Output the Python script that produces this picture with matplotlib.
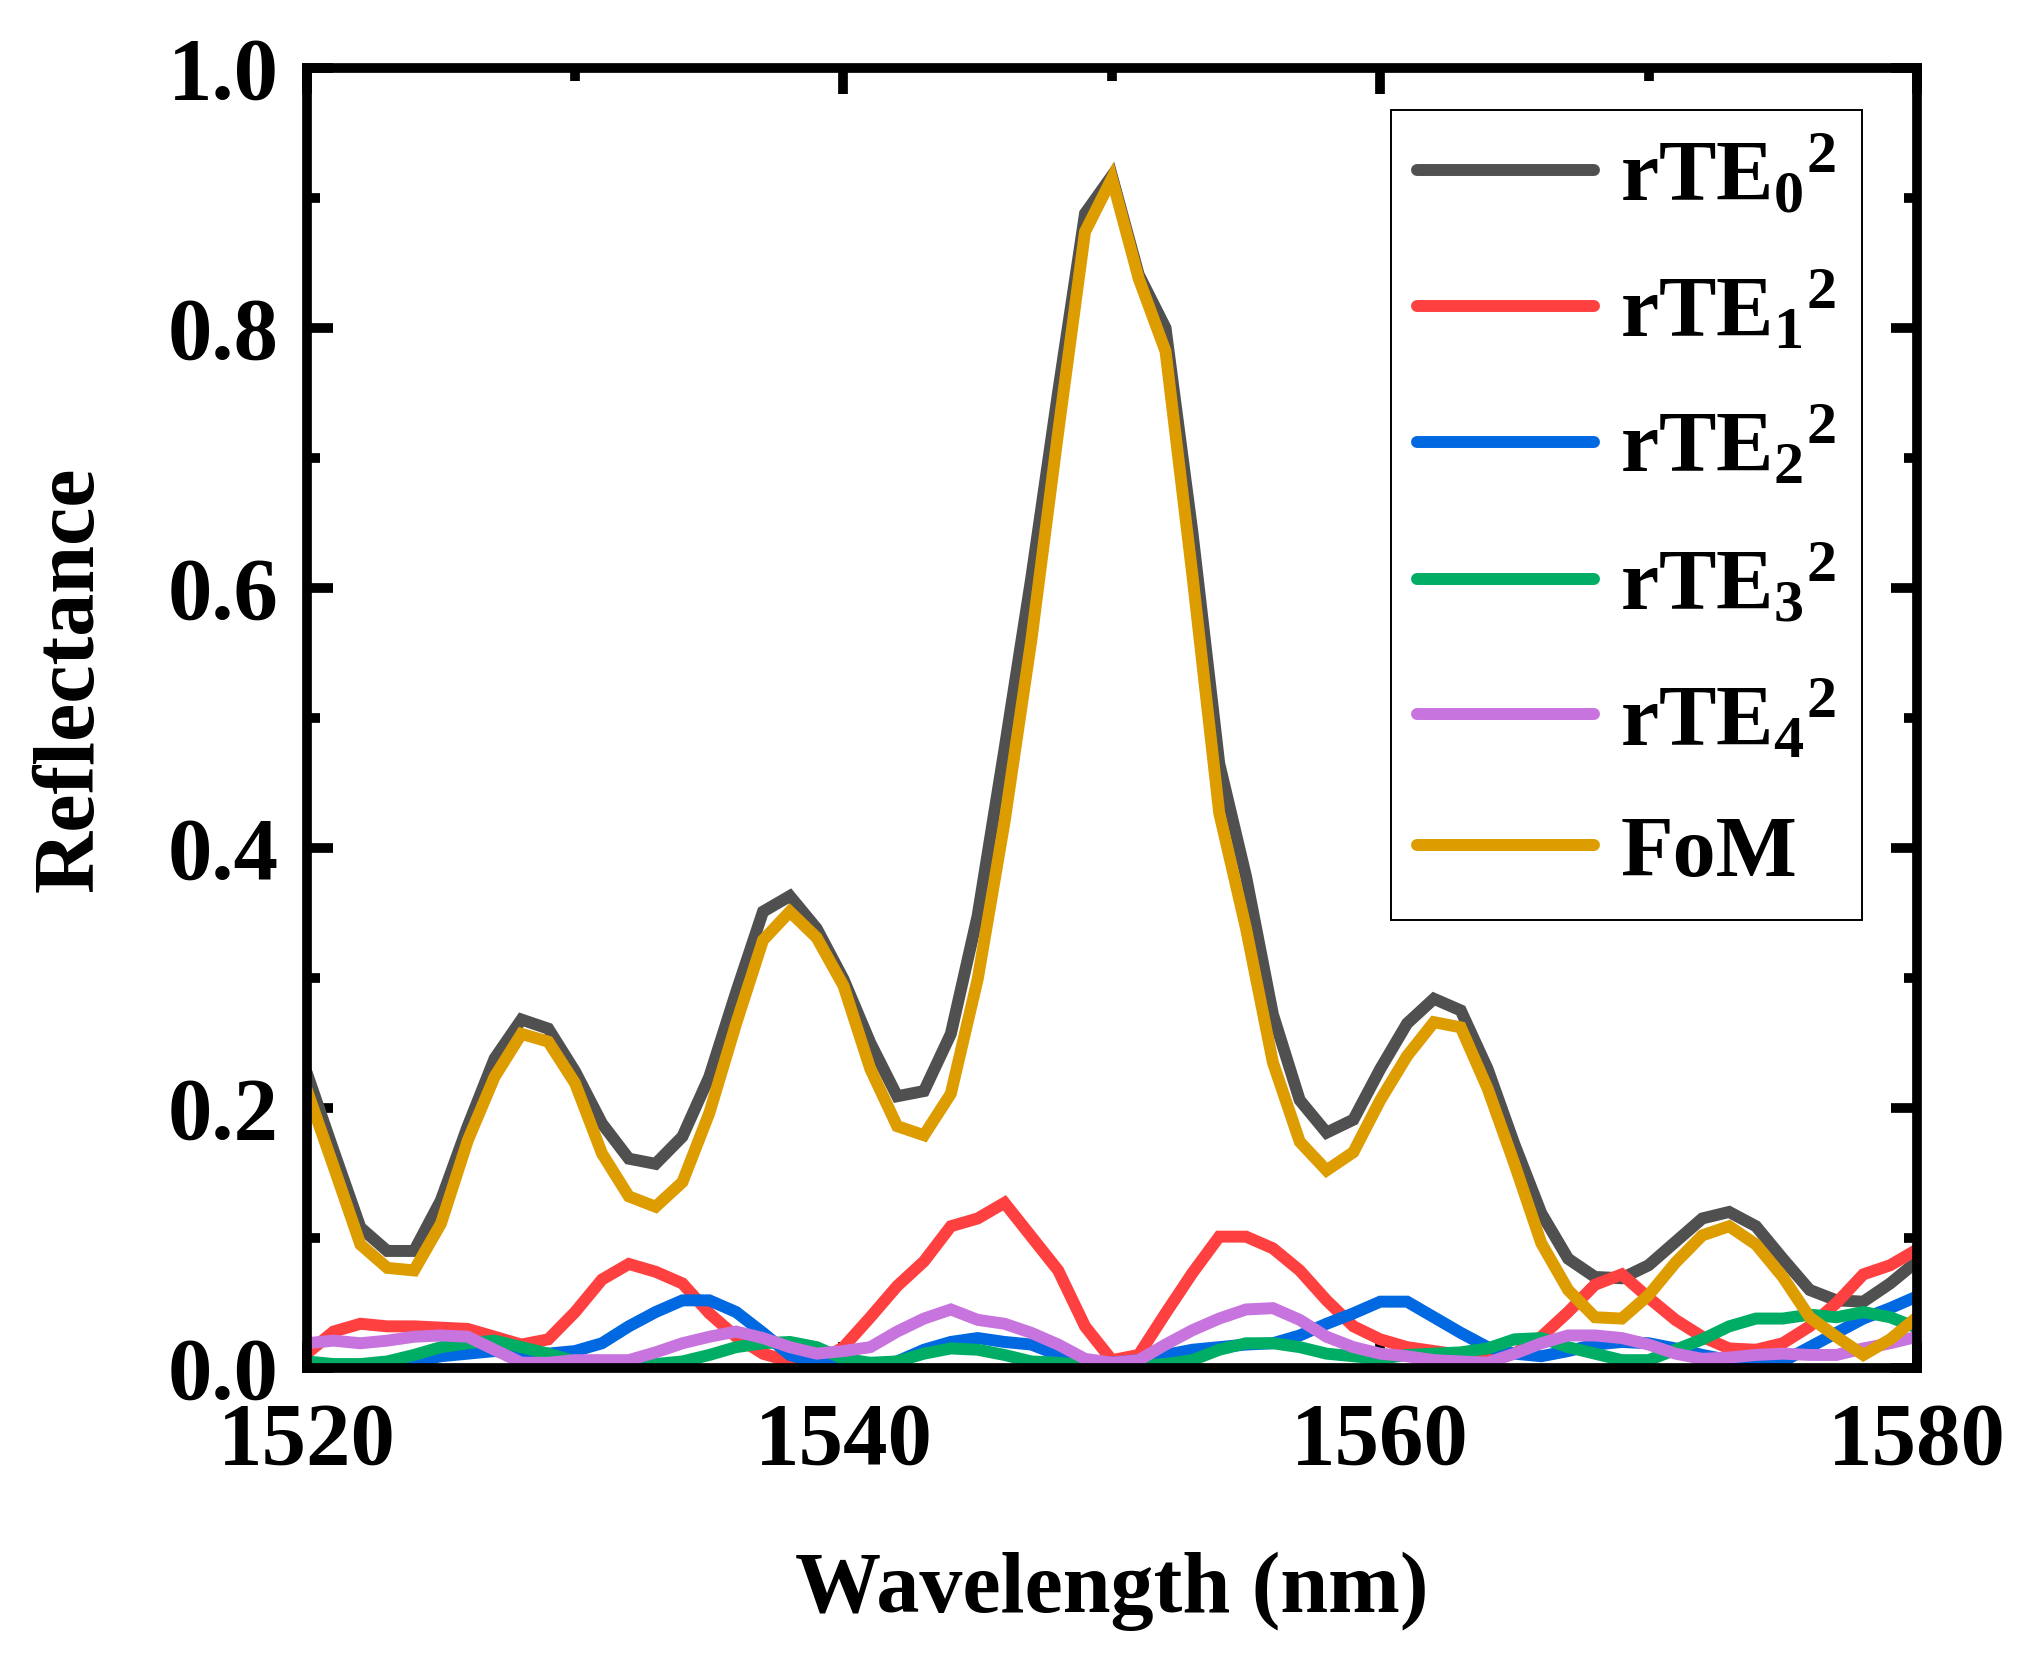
import numpy as np
import matplotlib
matplotlib.use("Agg")
import matplotlib.pyplot as plt
from matplotlib.ticker import MultipleLocator

plt.rcParams["font.family"] = ["Liberation Serif", "DejaVu Serif"]
plt.rcParams["font.weight"] = "bold"
plt.rcParams["mathtext.fontset"] = "custom"
plt.rcParams["mathtext.rm"] = "Liberation Serif:bold"
plt.rcParams["mathtext.it"] = "Liberation Serif:bold"
plt.rcParams["mathtext.bf"] = "Liberation Serif:bold"

# wavelength grid (1 nm steps)
wavelength = np.arange(1520, 1581)

rte0 = [0.227, 0.167, 0.108, 0.090, 0.090, 0.129, 0.186, 0.238, 0.268, 0.261,
        0.228, 0.188, 0.161, 0.157, 0.178, 0.224, 0.289, 0.351, 0.363, 0.338,
        0.299, 0.250, 0.209, 0.213, 0.257, 0.348, 0.476, 0.608, 0.751, 0.888,
        0.917, 0.841, 0.800, 0.643, 0.465, 0.378, 0.272, 0.206, 0.181, 0.191,
        0.230, 0.265, 0.284, 0.275, 0.230, 0.172, 0.119, 0.084, 0.070, 0.069,
        0.079, 0.097, 0.115, 0.120, 0.109, 0.084, 0.060, 0.052, 0.051, 0.065,
        0.082]
rte1 = [0.011, 0.028, 0.034, 0.032, 0.032, 0.031, 0.030, 0.024, 0.018, 0.022,
        0.043, 0.068, 0.080, 0.074, 0.065, 0.042, 0.024, 0.011, 0.005, 0.004,
        0.016, 0.039, 0.063, 0.082, 0.109, 0.115, 0.127, 0.101, 0.075, 0.032,
        0.006, 0.010, 0.042, 0.073, 0.101, 0.101, 0.092, 0.075, 0.052, 0.032,
        0.022, 0.016, 0.013, 0.010, 0.009, 0.011, 0.024, 0.043, 0.064, 0.072,
        0.054, 0.037, 0.024, 0.015, 0.014, 0.019, 0.032, 0.050, 0.072, 0.079,
        0.091]
rte2 = [0.001, 0.001, 0.001, 0.002, 0.005, 0.009, 0.011, 0.013, 0.011, 0.011,
        0.013, 0.019, 0.032, 0.043, 0.052, 0.052, 0.043, 0.027, 0.010, 0.004,
        0.002, 0.002, 0.005, 0.014, 0.020, 0.023, 0.020, 0.018, 0.010, 0.004,
        0.004, 0.006, 0.010, 0.014, 0.016, 0.018, 0.019, 0.025, 0.034, 0.042,
        0.051, 0.051, 0.039, 0.027, 0.016, 0.011, 0.009, 0.013, 0.018, 0.020,
        0.019, 0.015, 0.010, 0.006, 0.005, 0.005, 0.016, 0.027, 0.038, 0.046,
        0.055]
rte3 = [0.005, 0.003, 0.003, 0.005, 0.010, 0.016, 0.019, 0.021, 0.016, 0.011,
        0.005, 0.003, 0.003, 0.003, 0.005, 0.010, 0.016, 0.019, 0.020, 0.016,
        0.007, 0.004, 0.005, 0.011, 0.015, 0.014, 0.010, 0.005, 0.004, 0.002,
        0.002, 0.002, 0.003, 0.006, 0.014, 0.019, 0.019, 0.016, 0.011, 0.009,
        0.007, 0.010, 0.011, 0.012, 0.015, 0.022, 0.023, 0.016, 0.011, 0.006,
        0.006, 0.014, 0.022, 0.032, 0.038, 0.038, 0.041, 0.039, 0.043, 0.039,
        0.031]
rte4 = [0.019, 0.021, 0.019, 0.021, 0.024, 0.025, 0.024, 0.014, 0.004, 0.004,
        0.006, 0.006, 0.006, 0.012, 0.019, 0.024, 0.028, 0.023, 0.016, 0.011,
        0.013, 0.016, 0.028, 0.038, 0.045, 0.037, 0.034, 0.027, 0.018, 0.007,
        0.004, 0.006, 0.018, 0.029, 0.038, 0.045, 0.046, 0.037, 0.024, 0.016,
        0.011, 0.009, 0.006, 0.005, 0.004, 0.011, 0.019, 0.025, 0.025, 0.023,
        0.018, 0.011, 0.007, 0.008, 0.010, 0.011, 0.010, 0.010, 0.015, 0.019,
        0.024]
fom = [0.214, 0.155, 0.095, 0.077, 0.075, 0.111, 0.175, 0.224, 0.257, 0.251,
       0.219, 0.165, 0.132, 0.124, 0.143, 0.196, 0.265, 0.329, 0.351, 0.331,
       0.294, 0.230, 0.186, 0.179, 0.211, 0.299, 0.420, 0.560, 0.720, 0.874,
       0.915, 0.838, 0.782, 0.610, 0.427, 0.338, 0.235, 0.174, 0.152, 0.166,
       0.206, 0.240, 0.266, 0.262, 0.215, 0.157, 0.096, 0.060, 0.039, 0.038,
       0.056, 0.081, 0.102, 0.109, 0.095, 0.070, 0.039, 0.024, 0.010, 0.022,
       0.039]

series = [rte0, rte1, rte2, rte3, rte4, fom]
labels = [r"rTE$_0$$^2$", r"rTE$_1$$^2$", r"rTE$_2$$^2$", r"rTE$_3$$^2$",
          r"rTE$_4$$^2$", "FoM"]
colors = ["#505050", "#FF4040", "#0068E0", "#00AD64", "#C874DE", "#DD9C00"]

fig = plt.figure(figsize=(10.13, 8.33), dpi=200)
ax = fig.add_axes([0.1514, 0.1789, 0.7948, 0.7803])

for ys, lab, c in zip(series, labels, colors):
    ax.plot(wavelength, ys, color=c, lw=4.3, label=lab,
            solid_capstyle="round", solid_joinstyle="miter")

ax.set_xlim(1520, 1580)
ax.set_ylim(0, 1.0)
ax.xaxis.set_major_locator(MultipleLocator(20))
ax.xaxis.set_minor_locator(MultipleLocator(10))
ax.yaxis.set_major_locator(MultipleLocator(0.2))
ax.yaxis.set_minor_locator(MultipleLocator(0.1))

ax.tick_params(which="both", direction="in", top=True, right=True, width=3.5,
               labelsize=32, pad=10)
ax.tick_params(axis="x", which="both", pad=12)
ax.tick_params(which="major", length=9.2)
ax.tick_params(which="minor", length=4.7)
for sp in ax.spines.values():
    sp.set_linewidth(3.5)

ax.set_xlabel("Wavelength (nm)", fontsize=31, fontweight="bold", labelpad=25)
ax.set_ylabel("Reflectance", fontsize=31, fontweight="bold")
ax.yaxis.set_label_coords(-0.121, 0.53)

leg = ax.legend(loc="upper right", bbox_to_anchor=(0.966, 0.968),
                borderaxespad=0, fontsize=31, fancybox=False, framealpha=1,
                edgecolor="black", handlelength=2.06, handletextpad=0.3,
                labelspacing=0.6, borderpad=0.3)
leg.get_frame().set_linewidth(0.7)

fig.savefig("out.png", dpi=200)
